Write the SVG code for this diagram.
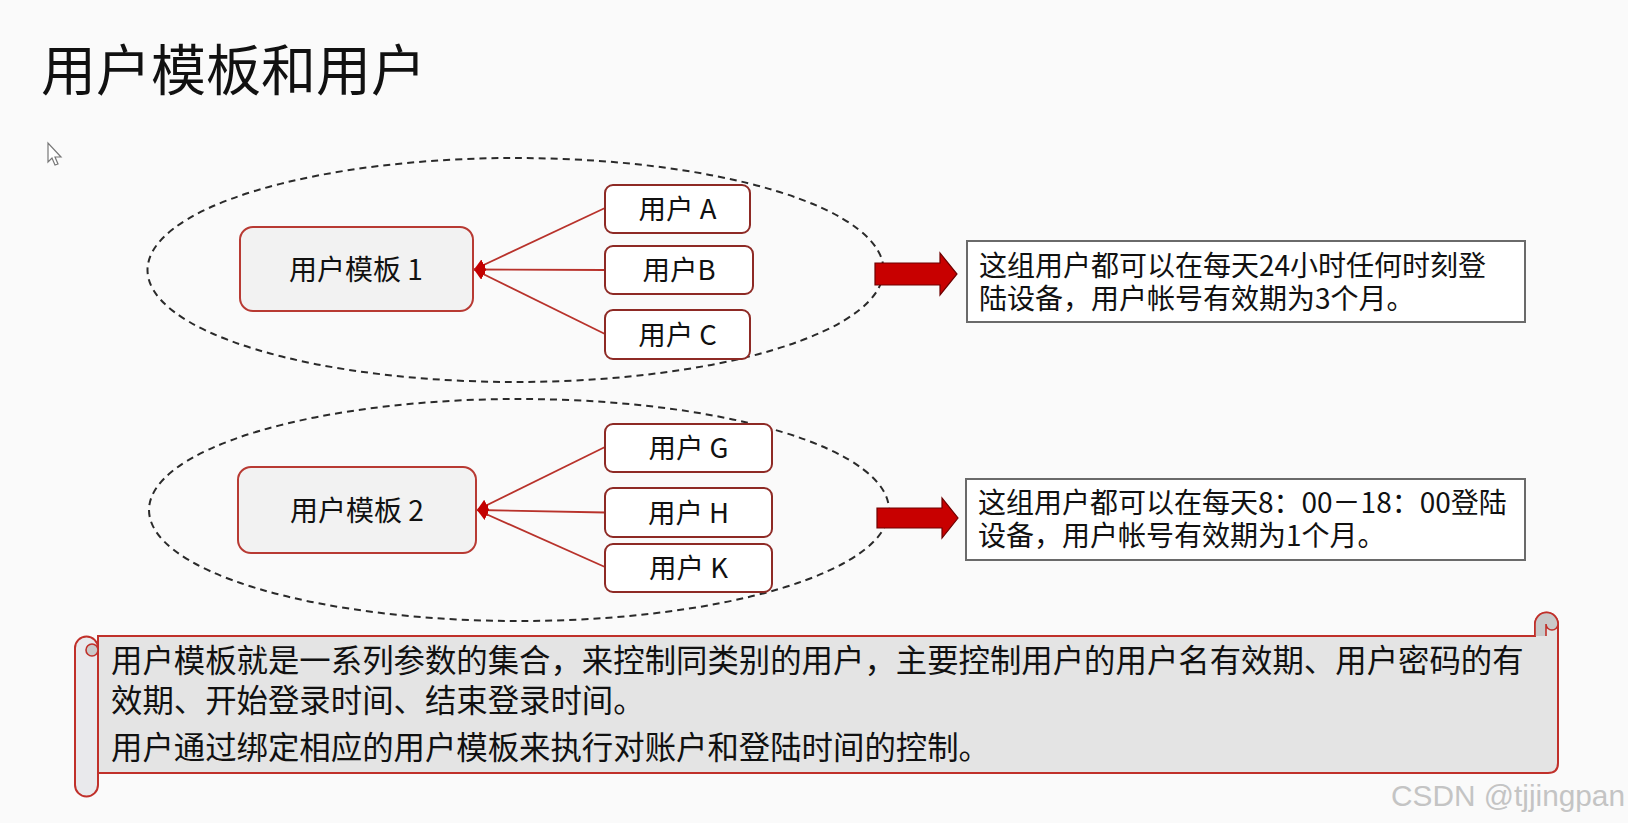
<svg xmlns="http://www.w3.org/2000/svg" width="1628" height="823" viewBox="0 0 1628 823">
<defs>
<style>
.cjk{font-family:"Noto Sans CJK SC","Noto Sans",sans-serif;fill:#111;}
.tpl{fill:#f2f2f2;stroke:#b83a33;stroke-width:2;}
.usr{fill:#ffffff;stroke:#8e2a25;stroke-width:2;}
.ell{fill:none;stroke:#2a2a2a;stroke-width:2;stroke-dasharray:7 5;}
.con{stroke:#b8322b;stroke-width:1.8;fill:none;}
.blk{fill:#c80000;stroke:#6e0000;stroke-width:1.2;}
.note{fill:#ffffff;stroke:#6a6a6a;stroke-width:2;}
.scroll{fill:#e4e4e4;stroke:#c0302a;stroke-width:2;}
.roll{fill:#e9e9ec;stroke:#c0302a;stroke-width:2;}
.curl{fill:#c9c9c9;stroke:#c0302a;stroke-width:1.6;}
</style>
<marker id="ah" markerWidth="12" markerHeight="12" refX="11" refY="6" orient="auto" markerUnits="userSpaceOnUse">
<path d="M11,6 L0,0 L0,12 Z" fill="#c40000"/>
</marker>
</defs>
<rect width="1628" height="823" fill="#fafafa"/>
<text class="cjk" x="41" y="90" font-size="55">用户模板和用户</text>
<path d="M48,143 L48,162 L52,158 L55,165 L58,164 L55,157 L61,157 Z" fill="#ffffff" stroke="#777" stroke-width="1.2"/>

<g id="ellipses">
<ellipse class="ell" cx="515.5" cy="270" rx="368" ry="112"/>
<ellipse class="ell" cx="519" cy="510" rx="370" ry="111"/>
</g>

<g id="connectors">
<line class="con" x1="605" y1="208" x2="474" y2="269.5" marker-end="url(#ah)"/>
<line class="con" x1="605" y1="270" x2="474" y2="269.5" marker-end="url(#ah)"/>
<line class="con" x1="605" y1="334" x2="474" y2="269.5" marker-end="url(#ah)"/>
<line class="con" x1="605" y1="447" x2="477" y2="510" marker-end="url(#ah)"/>
<line class="con" x1="605" y1="512.5" x2="477" y2="510" marker-end="url(#ah)"/>
<line class="con" x1="605" y1="567" x2="477" y2="510" marker-end="url(#ah)"/>
<path class="blk" d="M875,263 H940 V253 L957,274 L940,295 V285 H875 Z"/>
<path class="blk" d="M877,508 H942 V498 L958,518 L942,538 V528 H877 Z"/>
</g>

<g id="template1">
<rect class="tpl" x="240" y="227" width="233" height="84" rx="13"/>
<text class="cjk" x="356" y="279.5" font-size="28" text-anchor="middle">用户模板 1</text>
</g>
<g id="template2">
<rect class="tpl" x="238" y="467" width="238" height="86" rx="13"/>
<text class="cjk" x="357" y="520.5" font-size="28" text-anchor="middle">用户模板 2</text>
</g>

<g id="userA">
<rect class="usr" x="605" y="185" width="145" height="48" rx="8"/>
<text class="cjk" x="677.5" y="219" font-size="27.5" text-anchor="middle">用户 A</text>
</g>
<g id="userB">
<rect class="usr" x="605" y="246" width="148" height="48" rx="8"/>
<text class="cjk" x="679" y="280" font-size="27.5" text-anchor="middle">用户B</text>
</g>
<g id="userC">
<rect class="usr" x="605" y="310" width="145" height="49" rx="8"/>
<text class="cjk" x="677.5" y="344.5" font-size="27.5" text-anchor="middle">用户 C</text>
</g>
<g id="userG">
<rect class="usr" x="605" y="424" width="167" height="48" rx="8"/>
<text class="cjk" x="688.5" y="458" font-size="27.5" text-anchor="middle">用户 G</text>
</g>
<g id="userH">
<rect class="usr" x="605" y="488" width="167" height="49" rx="8"/>
<text class="cjk" x="688.5" y="522.5" font-size="27.5" text-anchor="middle">用户 H</text>
</g>
<g id="userK">
<rect class="usr" x="605" y="544" width="167" height="48" rx="8"/>
<text class="cjk" x="688.5" y="578" font-size="27.5" text-anchor="middle">用户 K</text>
</g>

<g id="note1">
<rect class="note" x="967" y="241" width="558" height="81"/>
<text class="cjk" x="979" y="276" font-size="28">这组用户都可以在每天24小时任何时刻登</text>
<text class="cjk" x="979" y="309" font-size="28">陆设备，用户帐号有效期为3个月。</text>
</g>
<g id="note2">
<rect class="note" x="966" y="479" width="559" height="81"/>
<text class="cjk" x="978" y="512.5" font-size="28">这组用户都可以在每天8：00－18：00登陆</text>
<text class="cjk" x="978" y="546" font-size="28">设备，用户帐号有效期为1个月。</text>
</g>

<g id="scroll">
<path class="scroll" d="M98,636 H1535 V624 A11.5,11.5 0 0 1 1558,624 V763 Q1558,773 1548,773 H98 Z"/>
<path class="curl" d="M1535,636 V624 A11.5,11.5 0 0 1 1558,624 A6,6 0 0 1 1546,624 V636"/>
<path class="roll" d="M75,648 A11.5,11.5 0 0 1 98,648 V785 A11.5,11.5 0 0 1 75,785 Z"/>
<circle class="curl" cx="92" cy="650" r="6"/>
<text class="cjk" x="111" y="671.5" font-size="31.4">用户模板就是一系列参数的集合，来控制同类别的用户，主要控制用户的用户名有效期、用户密码的有</text>
<text class="cjk" x="111" y="711.5" font-size="31.4">效期、开始登录时间、结束登录时间。</text>
<text class="cjk" x="111" y="759" font-size="31.4">用户通过绑定相应的用户模板来执行对账户和登陆时间的控制。</text>
</g>

<text x="1391" y="806" font-size="30" font-family="Liberation Sans, Arial, sans-serif" fill="#c4c4c4" textLength="234" lengthAdjust="spacingAndGlyphs">CSDN @tjjingpan</text>
</svg>
